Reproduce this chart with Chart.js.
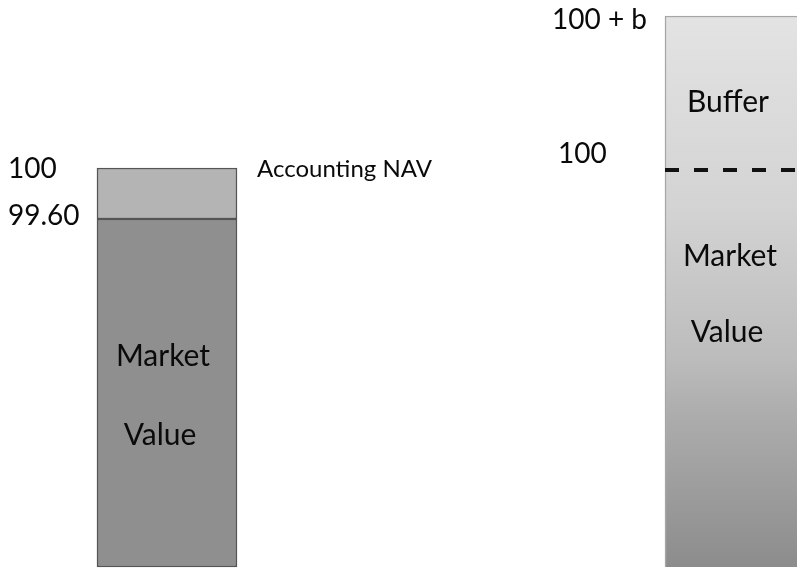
<!DOCTYPE html>
<html>
<head>
<meta charset="utf-8">
<script src="https://cdn.jsdelivr.net/npm/chart.js@4.4.1/dist/chart.umd.min.js"></script>
<style>
  html, body { margin: 0; padding: 0; background: #fff; overflow: hidden; }
  #wrap { width: 797px; height: 568px; position: relative; }
</style>
</head>
<body>
<div id="wrap"><canvas id="chart"></canvas></div>
<script>
// two columns of the sketch: accounting NAV on the left, market value + buffer on the right
const columns = ['Accounting NAV', 'Buffer']

// segment heights in sketch units (the figure is not to scale)
const marketValue = [69.6, 79.4]
const upperPart = [10.2, 30.8]

// labels next to the level lines: [top of column, top of market value]
const levelLabels = [['100', '99.60'], ['100 + b', '100']]

const FONT = 'Lato, "Open Sans", sans-serif'

function rightGradient (ctx) {
  const chart = ctx.chart
  const area = chart.chartArea
  if (!area) return '#c8c8c8'
  const y = chart.scales.y
  const top = y.getPixelForValue(marketValue[1] + upperPart[1])
  const g = chart.ctx.createLinearGradient(0, top, 0, chart.height)
  g.addColorStop(0, '#e3e3e3')
  g.addColorStop(0.35, '#d3d3d3')
  g.addColorStop(0.62, '#bcbcbc')
  g.addColorStop(0.72, '#adadad')
  g.addColorStop(1, '#8c8c8c')
  return g
}

function onlyAt (i, v) {
  return columns.map((_, j) => (j === i ? v : null))
}

const datasets = [
  {
    label: 'Market Value',
    data: onlyAt(0, marketValue[0]),
    backgroundColor: '#8f8f8f',
    borderColor: '#555555',
    borderWidth: 1.5
  },
  {
    label: 'Accounting NAV',
    data: onlyAt(0, upperPart[0]),
    backgroundColor: '#b4b4b4',
    borderColor: '#555555',
    borderWidth: 1.5
  },
  {
    label: 'Market Value',
    data: onlyAt(1, marketValue[1]),
    backgroundColor: rightGradient,
    borderColor: '#a6a6a6',
    borderWidth: { left: 1.5, right: 0, top: 0, bottom: 0 }
  },
  {
    label: 'Buffer',
    data: onlyAt(1, upperPart[1]),
    backgroundColor: rightGradient,
    borderColor: '#a6a6a6',
    borderWidth: { left: 1.5, right: 0, top: 1.5, bottom: 0 }
  }
]

const sketchText = {
  id: 'sketchText',
  afterDatasetsDraw (chart) {
    const ctx = chart.ctx
    const y = chart.scales.y
    const leftBar = chart.getDatasetMeta(0).data[0]
    const rightBar = chart.getDatasetMeta(2).data[1]
    const leftTop = y.getPixelForValue(marketValue[0] + upperPart[0])
    const leftBreak = y.getPixelForValue(marketValue[0])
    const rightTop = y.getPixelForValue(marketValue[1] + upperPart[1])
    const rightBreak = y.getPixelForValue(marketValue[1])
    const rightEdge = rightBar.x - rightBar.width / 2

    ctx.save()
    // dashed line at 100 on the right column
    ctx.strokeStyle = '#111'
    ctx.lineWidth = 4
    ctx.setLineDash([14, 15])
    ctx.beginPath()
    ctx.moveTo(rightEdge, rightBreak)
    ctx.lineTo(chart.width, rightBreak)
    ctx.stroke()
    ctx.setLineDash([])

    ctx.fillStyle = '#0a0a0a'
    ctx.textBaseline = 'alphabetic'
    ctx.font = '28px ' + FONT
    ctx.textAlign = 'left'
    ctx.fillText(levelLabels[0][0], 8, leftTop + 10)
    ctx.fillText(levelLabels[0][1], 8, leftBreak + 6)
    ctx.fillText(levelLabels[1][0], 552, rightTop + 13)
    ctx.fillText(levelLabels[1][1], 558, rightBreak - 7)

    ctx.font = '24px ' + FONT
    ctx.fillText(columns[0], 257, leftTop + 9)

    ctx.font = '30px ' + FONT
    ctx.textAlign = 'center'
    ctx.fillText('Market', leftBar.x - 4, leftBreak + 147)
    ctx.fillText('Value', leftBar.x - 7, leftBreak + 226)
    ctx.fillText(columns[1], 728, rightTop + 96)
    ctx.fillText('Market', 730, rightBreak + 96)
    ctx.fillText('Value', 727, rightBreak + 172)
    ctx.restore()
  }
}

new Chart(document.getElementById('chart'), {
  type: 'bar',
  data: { labels: columns, datasets: datasets },
  options: {
    responsive: true,
    maintainAspectRatio: false,
    animation: false,
    layout: { padding: { left: 167, right: 62, top: 0, bottom: 1 } },
    datasets: { bar: { barThickness: 140, borderSkipped: false, clip: false } },
    scales: {
      x: { type: 'category', offset: false, stacked: true, display: false },
      y: { stacked: true, min: 0, max: 113.4, display: false }
    },
    plugins: {
      legend: { display: false },
      tooltip: { enabled: false }
    }
  },
  plugins: [sketchText]
})
</script>
</body>
</html>
